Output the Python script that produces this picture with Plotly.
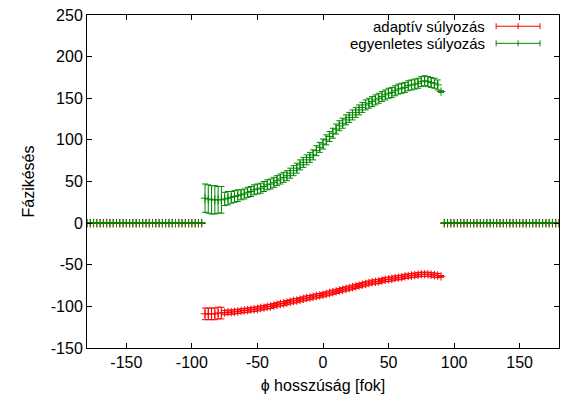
import plotly.graph_objects as go

# longitude grid (degrees)
lon_left = [round(-180 + 2.5 * i, 1) for i in range(36)]      # -180 .. -92.5
lon_data = [round(-90 + 2.5 * i, 1) for i in range(73)]       # -90 .. 90
lon_right = [round(92.5 + 2.5 * i, 1) for i in range(36)]     # 92.5 .. 180

zeros_side = [0] * 36

adapt_vals = [
    -109, -109, -109, -109, -108, -108, -107.5, -107, -107, -106.5,
    -106, -105.5, -105, -104.5, -104, -103.5, -103, -102, -101.5, -100.5,
    -100, -99, -98, -97, -96.5, -95.5, -94.5, -93.5, -93, -92,
    -91, -90, -89.5, -88.5, -87.5, -87, -86, -85, -84, -83,
    -82, -81, -80, -79, -78, -77, -76, -75, -74, -73,
    -72, -71, -70.5, -70, -69, -68, -67.5, -67, -66, -65.5,
    -65, -64, -63.5, -63, -62.5, -62, -61.5, -61.5, -61.5, -62,
    -62.5, -63, -64,
]
adapt_err = [7, 7, 7, 7, 7, 7] + [2.5] * 66 + [1]

egyen_vals = [
    30, 29, 28, 28, 28, 28, 29, 30, 31, 32,
    33, 34, 35, 37, 38, 40, 41, 42, 44, 46,
    47, 49, 51, 53, 55, 57, 60, 63, 66, 70,
    73, 76, 79, 82, 87, 91, 95, 100, 104, 108,
    113, 117, 120, 124, 127, 130, 133, 136, 139, 142,
    144, 146, 148, 150, 152, 154, 156, 157, 159, 161,
    162, 163, 165, 166, 167, 168, 170, 171, 170, 169,
    168, 166, 158,
]
egyen_err = [17, 17, 17, 17, 16, 16, 8, 8, 7, 7, 7] + [6] * 61 + [1]

zero_err = [0] * 36

x_ticks = [-150, -100, -50, 0, 50, 100, 150]
y_ticks = [-150, -100, -50, 0, 50, 100, 150, 200, 250]

series = [
    ("adaptív súlyozás", adapt_vals, adapt_err, "rgb(255,0,0)"),
    ("egyenletes súlyozás", egyen_vals, egyen_err, "rgb(0,135,0)"),
]

fig = go.Figure()
for name, vals, err, col in series:
    x = lon_left + lon_data + lon_right
    y = zeros_side + vals + zeros_side
    e = zero_err + err + zero_err
    fig.add_trace(go.Scatter(
        x=x, y=y, mode="markers", name=name, showlegend=False,
        marker=dict(symbol="cross-thin", size=6, line=dict(width=1, color=col), color=col),
        error_y=dict(type="data", array=e, visible=True, color=col, thickness=1, width=3),
    ))

font = "Liberation Sans, Arial, sans-serif"

# legend drawn gnuplot-style: text right-aligned, sample to the right
L, T, W, H = 87, 13, 473, 335
def px(xp):
    return (xp - L) / W
def py(yp):
    return (T + H - yp) / H

leg_y = [24.3, 41.5]
for (name, vals, err, col), yy in zip(series, leg_y):
    fig.add_annotation(x=px(487), y=py(yy), xref="paper", yref="paper",
                       text=name, showarrow=False, xanchor="right", yanchor="middle",
                       borderpad=0, height=17,
                       font=dict(family=font, size=15, color="black"))
    fig.add_shape(type="line", xref="paper", yref="paper",
                  x0=px(497), x1=px(541), y0=py(yy), y1=py(yy), line=dict(color=col, width=1))
    for xx in (497, 541):
        fig.add_shape(type="line", xref="paper", yref="paper",
                      x0=px(xx), x1=px(xx), y0=py(yy - 3), y1=py(yy + 3), line=dict(color=col, width=1))
    fig.add_shape(type="line", xref="paper", yref="paper",
                  x0=px(519), x1=px(519), y0=py(yy - 3), y1=py(yy + 3), line=dict(color=col, width=1))

fig.update_layout(
    width=567, height=402,
    margin=dict(l=L, r=567 - L - W, t=T, b=402 - T - H),
    plot_bgcolor="white", paper_bgcolor="white",
    font=dict(family=font, size=16, color="black"),
    showlegend=False,
)
fig.update_xaxes(
    range=[-180, 180], tickvals=x_ticks, ticktext=[str(v) for v in x_ticks],
    ticks="inside", ticklen=5, tickcolor="black",
    showline=True, linecolor="black", linewidth=1, mirror="ticks", showgrid=False, zeroline=False,
    title=dict(text="ϕ hosszúság [fok]", font=dict(family=font, size=16), standoff=9),
)
fig.update_yaxes(
    range=[-150, 250], tickvals=y_ticks, ticktext=[str(v) for v in y_ticks],
    ticks="inside", ticklen=5, tickcolor="black",
    showline=True, linecolor="black", linewidth=1, mirror="ticks", showgrid=False, zeroline=False,
    title=dict(text="Fázikésés", font=dict(family=font, size=16), standoff=12),
)

fig.write_html("out.html")
